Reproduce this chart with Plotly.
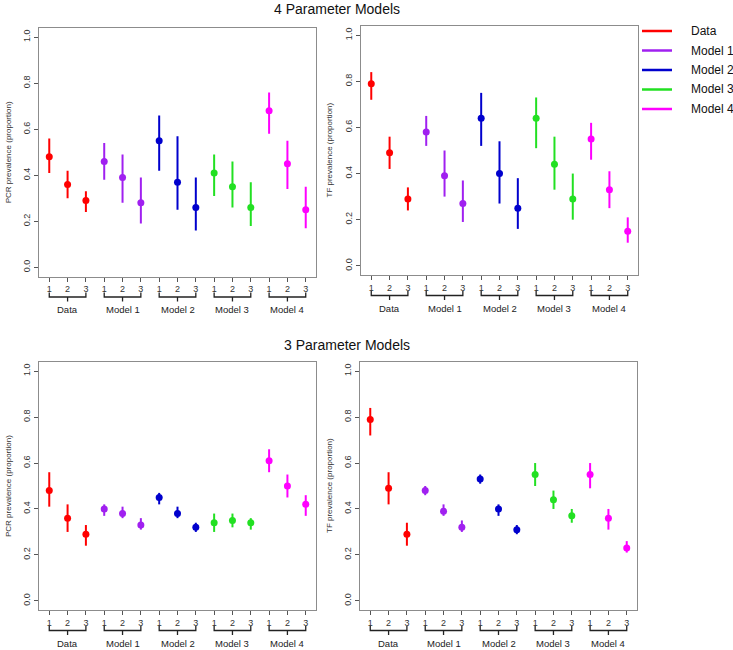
import plotly.graph_objects as go

# ---------------- data ----------------
groups = ["Data", "Model 1", "Model 2", "Model 3", "Model 4"]
age_groups = ["1", "2", "3"]
colors = ["#FF0000", "#A020F0", "#0000CD", "#22E022", "#FF00FF"]

pcr4_est = [0.48, 0.36, 0.29, 0.46, 0.39, 0.28, 0.55, 0.37, 0.26, 0.41, 0.35, 0.26, 0.68, 0.45, 0.25]
pcr4_lo  = [0.41, 0.30, 0.24, 0.38, 0.28, 0.19, 0.42, 0.25, 0.16, 0.31, 0.26, 0.18, 0.58, 0.34, 0.17]
pcr4_hi  = [0.56, 0.42, 0.33, 0.54, 0.49, 0.39, 0.66, 0.57, 0.39, 0.49, 0.46, 0.37, 0.76, 0.55, 0.35]

tf4_est = [0.79, 0.49, 0.29, 0.58, 0.39, 0.27, 0.64, 0.40, 0.25, 0.64, 0.44, 0.29, 0.55, 0.33, 0.15]
tf4_lo  = [0.72, 0.42, 0.24, 0.52, 0.30, 0.19, 0.52, 0.27, 0.16, 0.51, 0.33, 0.20, 0.46, 0.25, 0.10]
tf4_hi  = [0.84, 0.56, 0.34, 0.65, 0.50, 0.37, 0.75, 0.54, 0.38, 0.73, 0.56, 0.40, 0.62, 0.41, 0.21]

pcr3_est = [0.48, 0.36, 0.29, 0.40, 0.38, 0.33, 0.45, 0.38, 0.32, 0.34, 0.35, 0.34, 0.61, 0.50, 0.42]
pcr3_lo  = [0.41, 0.30, 0.24, 0.37, 0.36, 0.31, 0.42, 0.36, 0.30, 0.30, 0.32, 0.31, 0.56, 0.45, 0.37]
pcr3_hi  = [0.56, 0.42, 0.33, 0.42, 0.41, 0.36, 0.47, 0.41, 0.34, 0.38, 0.38, 0.36, 0.66, 0.55, 0.46]

tf3_est = [0.79, 0.49, 0.29, 0.48, 0.39, 0.32, 0.53, 0.40, 0.31, 0.55, 0.44, 0.37, 0.55, 0.36, 0.23]
tf3_lo  = [0.72, 0.42, 0.24, 0.46, 0.37, 0.30, 0.51, 0.37, 0.29, 0.50, 0.40, 0.34, 0.49, 0.31, 0.21]
tf3_hi  = [0.84, 0.56, 0.34, 0.50, 0.42, 0.35, 0.55, 0.42, 0.33, 0.60, 0.48, 0.40, 0.60, 0.40, 0.26]

y_ticks = [0.0, 0.2, 0.4, 0.6, 0.8, 1.0]
titles = ["4 Parameter Models", "3 Parameter Models"]
y_titles = ["PCR prevalence (proportion)", "TF prevalence (proportion)"]

# ---------------- layout geometry (pixels) ----------------
W, H = 733, 650
FONT = "Liberation Sans, Arial, sans-serif"

def px(x):
    return x / W

def py(y):
    return 1 - y / H

panels = [
    # est, lo, hi, ytitle, left, right, top, bottom, ytitle_x
    (pcr4_est, pcr4_lo, pcr4_hi, y_titles[0], 39, 316, 28, 276.5, 8),
    (tf4_est, tf4_lo, tf4_hi, y_titles[1], 361, 638, 26, 275, 329),
    (pcr3_est, pcr3_lo, pcr3_hi, y_titles[0], 39, 316, 362, 610, 8),
    (tf3_est, tf3_lo, tf3_hi, y_titles[1], 360, 637, 362, 610, 329),
]

n_per = len(age_groups)
positions = list(range(1, len(groups) * n_per + 1))
xr = [1 - 0.04 * (len(positions) - 1), len(positions) + 0.04 * (len(positions) - 1)]
BRACE_H = 38

fig = go.Figure()
annotations = []
shapes = []
layout_axes = {}

for p, (est, lo, hi, ytitle, L, R, T, B, ytx) in enumerate(panels):
    i = p + 1
    xa = "x" if i == 1 else f"x{i}"
    ya = "y" if i == 1 else f"y{i}"
    bi = i + 4
    for g, gname in enumerate(groups):
        sl = slice(g * n_per, (g + 1) * n_per)
        e = est[sl]
        fig.add_trace(go.Scatter(
            x=positions[sl], y=e, mode="markers",
            marker=dict(color=colors[g], size=7),
            error_y=dict(type="data", symmetric=False,
                         array=[h - v for h, v in zip(hi[sl], e)],
                         arrayminus=[v - l for v, l in zip(e, lo[sl])],
                         width=0, thickness=2, color=colors[g]),
            xaxis=xa, yaxis=ya, showlegend=False, hoverinfo="skip"))
        # brace under the group
        g0, g2 = positions[sl][0], positions[sl][-1]
        c = (g0 + g2) / 2
        fig.add_trace(go.Scatter(
            x=[g0, g0, c, c, c, g2, g2],
            y=[-16, -20.5, -20.5, -25, -20.5, -20.5, -16],
            mode="lines", line=dict(color="#222222", width=1.3),
            xaxis=f"x{bi}", yaxis=f"y{bi}", showlegend=False, hoverinfo="skip"))
        annotations.append(dict(x=c, y=-33, xref=f"x{bi}", yref=f"y{bi}", text=gname,
                                showarrow=False, font=dict(size=9.5, color="#222", family=FONT)))

    key = "" if i == 1 else str(i)
    layout_axes[f"xaxis{key}"] = dict(
        domain=[px(L), px(R)], range=xr, anchor=ya,
        tickvals=positions, ticktext=age_groups * len(groups),
        ticks="outside", ticklen=4, tickcolor="#555", tickwidth=1,
        showline=True, mirror=True, linecolor="#8c8c8c", linewidth=1,
        showgrid=False, zeroline=False,
        tickfont=dict(size=9, color="#333", family=FONT), fixedrange=True)
    layout_axes[f"yaxis{key}"] = dict(
        domain=[py(B), py(T)], range=[-0.04, 1.04], anchor=xa,
        tickvals=y_ticks, ticktext=[f"{v:.1f}" for v in y_ticks], tickangle=-90,
        ticks="outside", ticklen=4, tickcolor="#555", tickwidth=1,
        showline=True, mirror=True, linecolor="#8c8c8c", linewidth=1,
        showgrid=False, zeroline=False,
        tickfont=dict(size=9, color="#333", family=FONT), fixedrange=True)
    layout_axes[f"xaxis{bi}"] = dict(domain=[px(L), px(R)], range=xr, visible=False,
                                     anchor=f"y{bi}", fixedrange=True)
    layout_axes[f"yaxis{bi}"] = dict(domain=[py(B + BRACE_H), py(B)], range=[-BRACE_H, 0],
                                     visible=False, anchor=f"x{bi}", fixedrange=True)

    annotations.append(dict(x=px(ytx), y=py((T + B) / 2), xref="paper", yref="paper",
                            text=ytitle, textangle=-90, showarrow=False,
                            xanchor="center", yanchor="middle",
                            font=dict(size=8, color="#333", family=FONT)))

# panel-row titles
annotations.append(dict(x=px(336.7), y=py(8.5), xref="paper", yref="paper", text=titles[0],
                        showarrow=False, xanchor="center", yanchor="middle",
                        font=dict(size=14, color="#111", family=FONT)))
annotations.append(dict(x=px(346.5), y=py(345), xref="paper", yref="paper", text=titles[1],
                        showarrow=False, xanchor="center", yanchor="middle",
                        font=dict(size=14, color="#111", family=FONT)))

# legend (drawn by hand, R style: line key + label)
LEG_X0, LEG_X1, LEG_TX, LEG_Y0, LEG_DY = 642, 672, 689, 31, 19.5
for g, gname in enumerate(groups):
    yy = LEG_Y0 + g * LEG_DY
    shapes.append(dict(type="line", xref="paper", yref="paper",
                       x0=px(LEG_X0), x1=px(LEG_X1), y0=py(yy), y1=py(yy),
                       line=dict(color=colors[g], width=2.5)))
    annotations.append(dict(x=px(LEG_TX), y=py(yy), xref="paper", yref="paper", text=gname,
                            showarrow=False, xanchor="left", yanchor="middle",
                            font=dict(size=12, color="#111", family=FONT)))

fig.update_layout(
    width=W, height=H, margin=dict(l=0, r=0, t=0, b=0),
    paper_bgcolor="white", plot_bgcolor="white",
    font=dict(family=FONT),
    showlegend=False,
    annotations=annotations,
    shapes=shapes,
    **layout_axes,
)

fig.write_html(
    "out.html",
    config={"displayModeBar": False, "staticPlot": True},
    post_script="document.body.style.margin='0';document.body.style.padding='0';"
                "document.body.style.overflow='hidden';",
)
